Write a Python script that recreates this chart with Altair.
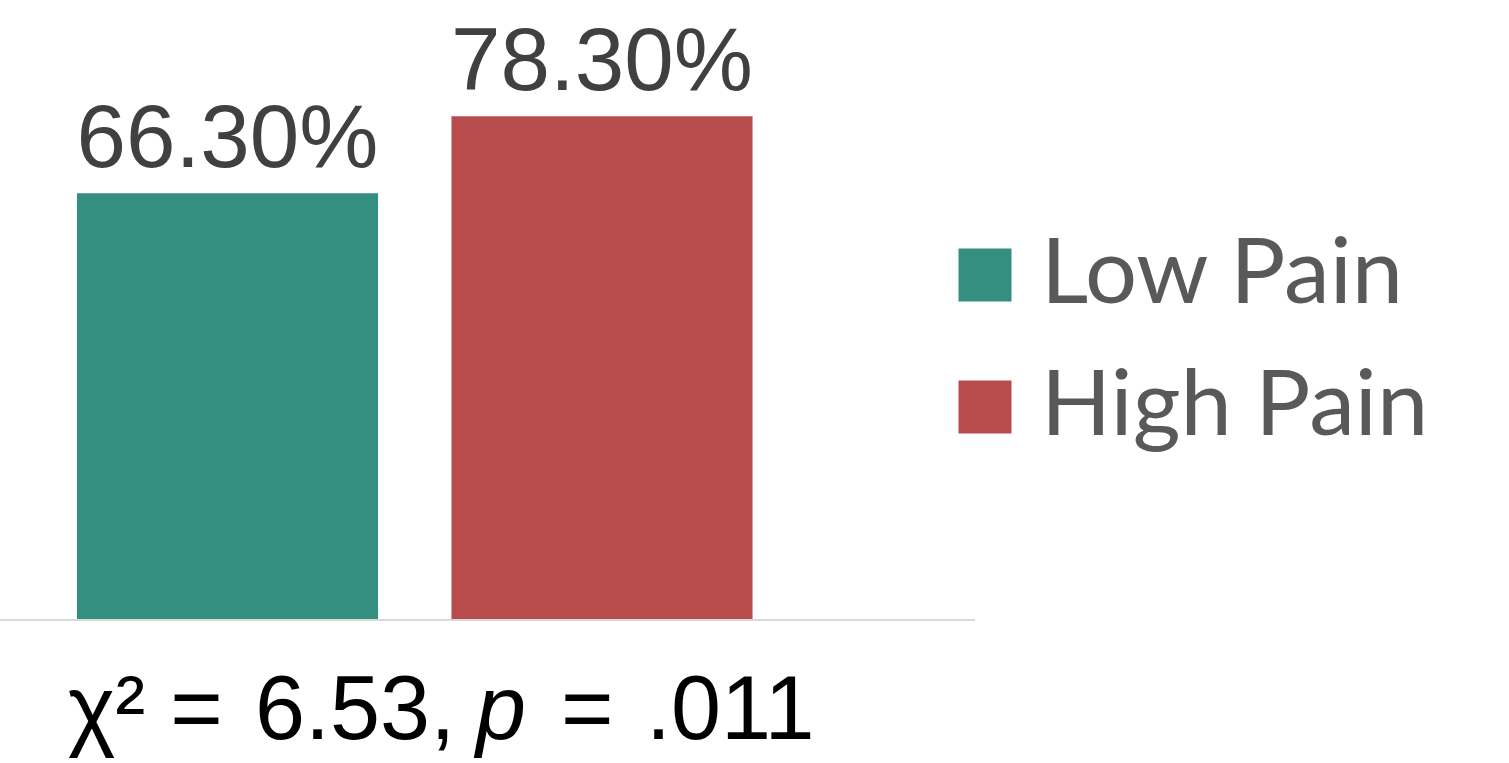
import altair as alt
import pandas as pd

groups = ["Low Pain", "High Pain"]
percent = [66.3, 78.3]
labels = ["66.30%", "78.30%"]
colors = ["#358f80", "#b84b4c"]
chi_square = "6.53"
p_value = ".011"

df = pd.DataFrame({"group": groups, "pct": percent, "label": labels})

PLOT_W = 829.5
PLOT_H = 578
TOP = 41

x = alt.X("group:N", sort=groups, axis=None,
          scale=alt.Scale(paddingInner=0.196, paddingOuter=0.2055))
y = alt.Y("pct:Q", axis=None, scale=alt.Scale(domain=[0, 90], nice=False, zero=True))
color = alt.Color(
    "group:N", sort=groups,
    scale=alt.Scale(domain=groups, range=colors),
    legend=alt.Legend(
        title=None, orient="none", legendX=939, legendY=188,
        symbolType="square", symbolSize=2809, symbolStrokeWidth=0, symbolOpacity=1,
        labelFont="Lato", labelFontSize=92, labelColor="#595959",
        labelOffset=10, rowPadding=40, padding=0, labelLimit=0,
    ),
)

bars = alt.Chart(df).mark_bar().encode(x=x, y=y, color=color)
vals = alt.Chart(df).mark_text(
    baseline="alphabetic", dy=-26, font="Liberation Sans", fontSize=89, color="#404040"
).encode(x=x, y=y, text="label:N")

axis_line = alt.Chart(pd.DataFrame({"v": [0]})).mark_rule(
    color="#d9d9d9", strokeWidth=2
).encode(x=alt.value(0), x2=alt.value(975), y=alt.value(PLOT_H + 1))

ann = pd.DataFrame({
    "t1": ["\u03c7\u00b2 ="],
    "t2": [f"{chi_square},"],
    "t3": ["p"],
    "t4": ["="],
    "t5": [p_value],
})
base_ann = alt.Chart(ann)
YB = 698


def piece(field, xpos, italic=False):
    kw = dict(align="left", baseline="alphabetic", font="Liberation Sans",
              fontSize=90, color="#000000")
    if italic:
        kw["fontStyle"] = "italic"
    return base_ann.mark_text(**kw).encode(
        x=alt.value(xpos), y=alt.value(YB), text=f"{field}:N")


a1 = piece("t1", 68)
a2 = piece("t2", 255)
a3 = piece("t3", 476, italic=True)
a4 = piece("t4", 561)
a5 = piece("t5", 646)

chart = alt.layer(bars, vals, axis_line, a1, a2, a3, a4, a5).properties(
    width=PLOT_W, height=PLOT_H,
    autosize=alt.AutoSizeParams(type="none"),
    padding={"left": 0, "top": TOP, "right": 1509 - PLOT_W, "bottom": 763 - TOP - PLOT_H},
    background="white",
).configure_view(stroke=None)

chart.save("out.html", embed_options={"renderer": "svg", "actions": False})
